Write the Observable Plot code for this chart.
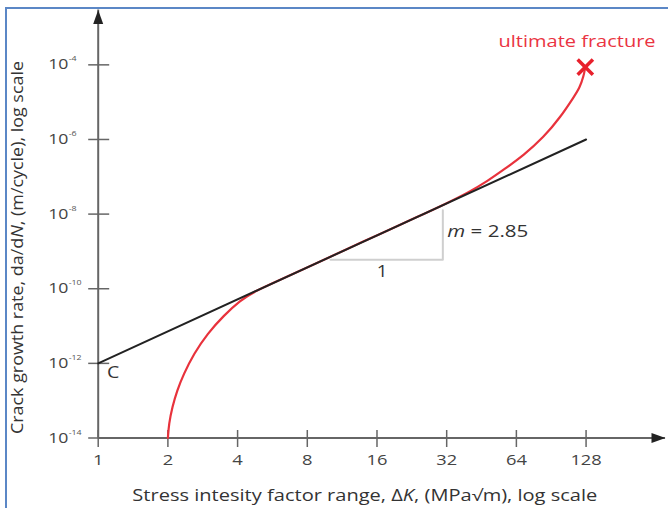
<!DOCTYPE html>
<html>
<head>
<meta charset="utf-8">
<script src="https://cdn.jsdelivr.net/npm/d3@7"></script>
<script src="https://cdn.jsdelivr.net/npm/@observablehq/plot@0.6"></script>
<style>
  html, body { margin: 0; padding: 0; background: #fff; }
  #wrap { position: relative; width: 668px; height: 508px; overflow: hidden; font-family: "Open Sans", sans-serif; }
  #border { position: absolute; left: 5px; top: 7px; width: 700px; height: 540px; border-left: 2px solid #5b87c6; border-top: 2px solid #5b87c6; box-sizing: border-box; }
  #chart { position: absolute; left: 0; top: 0; }
</style>
</head>
<body>
<div id="wrap"><div id="border"></div><div id="chart"></div></div>
<script>
// ---- data ----
const xDomain = [1, 282];            // stress intensity range axis extent (to arrow tip)
const yDomain = [1e-14, 2.95e-3];    // crack growth rate axis extent (to arrow tip)
const xTicks = [1, 2, 4, 8, 16, 32, 64, 128];
const yTicks = [1e-4, 1e-6, 1e-8, 1e-10, 1e-12, 1e-14];
const yTickExp = ["-4", "-6", "-8", "-10", "-12", "-14"];

// Paris-law straight line (slope m = 2.85, intercept C)
const parisK = [1, 128];
const parisRate = [1e-12, 1e-6];

// Actual crack growth curve (red)
const curveK = [2, 2.02, 2.09, 2.19, 2.34, 2.59, 2.96, 3.48, 4.12, 4.7, 6, 8, 12, 16, 24, 32, 40, 47.9, 56.4, 68.9, 84, 99.3, 113.3, 120, 125, 127];
const curveRate = [1e-14, 2.4e-14, 6.8e-14, 1.86e-13, 5.2e-13, 1.82e-12, 6.2e-12, 1.9e-11, 4.9e-11, 8.3e-11, 1.66e-10, 3.7e-10, 1.2e-9, 2.7e-9, 8.5e-9, 1.95e-8, 3.9e-8, 7.6e-8, 1.55e-7, 3.8e-7, 1.15e-6, 4.0e-6, 1.38e-5, 2.4e-5, 5.0e-5, 8.7e-5];

// ultimate fracture point
const fractureK = [127];
const fractureRate = [8.7e-5];

// slope triangle
const triK = [10.08, 30.8, 30.8];
const triRate = [6.0e-10, 6.0e-10, 1.26e-8];

// annotations
const annText = ["ultimate fracture", "C", "m = 2.85", "1"];
const annK = [117, 1.16, 32.2, 16.85];
const annRate = [4.0e-4, 5.7e-13, 3.3e-9, 2.8e-10];

const xTitle = "Stress intesity factor range, \u0394K, (MPa\u221Am), log scale";
const yTitle = "Crack growth rate, da/dN, (m/cycle), log scale";

// ---- build tables ----
const paris = parisK.map((k, i) => ({k, r: parisRate[i]}));
const curve = curveK.map((k, i) => ({k, r: curveRate[i]}));
const tri = triK.map((k, i) => ({k, r: triRate[i]}));
const ann = annText.map((t, i) => ({t, k: annK[i], r: annRate[i]}));
const yLab = yTicks.map((v, i) => ({v, e: yTickExp[i]}));

// custom symbols
const vTick = {draw(ctx) { ctx.moveTo(0, -8); ctx.lineTo(0, 9); }};
const hTick = {draw(ctx) { ctx.moveTo(-10, 0); ctx.lineTo(11, 0); }};
const arrowUp = {draw(ctx) { ctx.moveTo(0, 0); ctx.lineTo(-5, 14); ctx.lineTo(5, 14); ctx.closePath(); }};
const arrowRight = {draw(ctx) { ctx.moveTo(0, 0); ctx.lineTo(-14, -5); ctx.lineTo(-14, 5); ctx.closePath(); }};

const axisColor = "#666";
const chart = Plot.plot({
  width: 668,
  height: 508,
  marginLeft: 97.7,
  marginRight: 3,
  marginTop: 9.5,
  marginBottom: 70.5,
  style: {fontFamily: "'Open Sans', sans-serif", background: "transparent"},
  x: {type: "log", base: 2, domain: xDomain, axis: null},
  y: {type: "log", domain: yDomain, axis: null},
  marks: [
    // axis lines
    Plot.ruleY([yDomain[0]], {stroke: axisColor, strokeWidth: 2}),
    Plot.ruleX([xDomain[0]], {stroke: axisColor, strokeWidth: 2}),
    Plot.dot([xDomain[1]], {x: d => d, y: yDomain[0], symbol: arrowRight, fill: "#222", stroke: "none"}),
    Plot.dot([yDomain[1]], {x: xDomain[0], y: d => d, symbol: arrowUp, fill: "#222", stroke: "none"}),
    // ticks
    Plot.dot(xTicks, {x: d => d, y: yDomain[0], symbol: vTick, fill: "none", stroke: axisColor, strokeWidth: 1.5}),
    Plot.dot(yTicks, {x: xDomain[0], y: d => d, symbol: hTick, fill: "none", stroke: axisColor, strokeWidth: 1.5}),
    // tick labels
    Plot.text(xTicks, {x: d => d, y: yDomain[0], text: d => String(d), dy: 22, fontSize: 15, fill: "#444"}),
    Plot.text(yLab, {x: xDomain[0], y: "v", text: () => "10", textAnchor: "start", dx: -50, dy: 0, fontSize: 14.5, fill: "#444"}),
    Plot.text(yLab, {x: xDomain[0], y: "v", text: "e", textAnchor: "start", dx: -29.5, dy: -6, fontSize: 8, fill: "#555"}),
    // slope triangle
    Plot.line(tri, {x: "k", y: "r", stroke: "#cfcfcf", strokeWidth: 2}),
    // curves
    Plot.line(curve, {x: "k", y: "r", stroke: "#e8323c", strokeWidth: 2.2, curve: "basis"}),
    Plot.line(paris, {x: "k", y: "r", stroke: "#222", strokeWidth: 2}),
    Plot.dot(fractureK.map((k, i) => ({k, r: fractureRate[i]})), {x: "k", y: "r", symbol: "times", r: 7, stroke: "#e8202c", strokeWidth: 3.5}),
    // annotations
    Plot.text(ann.filter(d => d.t === "ultimate fracture"), {x: "k", y: "r", text: "t", fontSize: 15.5, fill: "#ea3442"}),
    Plot.text(ann.filter(d => d.t === "C"), {x: "k", y: "r", text: "t", fontSize: 16, fill: "#333"}),
    Plot.text(ann.filter(d => d.t === "m = 2.85"), {x: "k", y: "r", text: "t", textAnchor: "start", fontSize: 15.5, fill: "#333"}),
    Plot.text(ann.filter(d => d.t === "1"), {x: "k", y: "r", text: "t", fontSize: 15.5, fill: "#333"}),
    // axis titles
    Plot.text([xTitle], {frameAnchor: "bottom", text: d => d, textAnchor: "middle", lineAnchor: "middle", dx: -17, dy: 58, fontSize: 15.5, fill: "#333"}),
    Plot.text([yTitle], {frameAnchor: "left", text: d => d, textAnchor: "middle", lineAnchor: "middle", rotate: -90, dx: -80, dy: 23.5, fontSize: 15.5, fill: "#333"})
  ]
});
document.getElementById("chart").appendChild(chart);

// italicise variable names
function italicize(full, parts) {
  d3.select(chart).selectAll("text").each(function() {
    if (this.textContent === full) {
      const el = d3.select(this);
      el.text(null);
      parts.forEach(([s, it]) => {
        const ts = el.append("tspan").text(s);
        if (it) ts.attr("font-style", "italic");
      });
    }
  });
}
italicize(xTitle, [["Stress intesity factor range, \u0394", false], ["K", true], [", (MPa\u221Am), log scale", false]]);
italicize(yTitle, [["Crack growth rate, da/d", false], ["N", true], [", (m/cycle), log scale", false]]);
italicize("m = 2.85", [["m", true], [" = 2.85", false]]);

// the reference lettering is set wide: stretch each text horizontally
const targetLength = new Map([[xTitle, 465], [yTitle, 373], ["ultimate fracture", 157], ["m = 2.85", 81]]);
d3.select(chart).selectAll("text").each(function() {
  const t = this.textContent;
  if (!t) return;
  const natural = this.getComputedTextLength();
  const target = targetLength.has(t) ? targetLength.get(t) : (yTickExp.includes(t) ? natural * 1.1 : natural * 1.22);
  this.setAttribute("textLength", target.toFixed(1));
  this.setAttribute("lengthAdjust", "spacingAndGlyphs");
});
</script>
</body>
</html>
